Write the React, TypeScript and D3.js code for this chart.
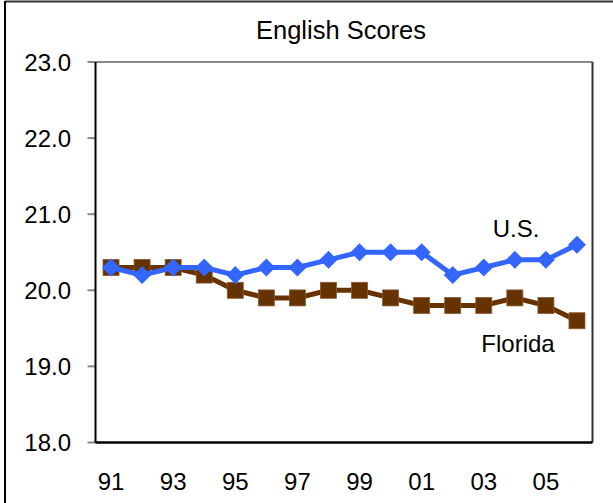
import React from "react";
import * as d3 from "d3";

const years = ["91","92","93","94","95","96","97","98","99","00","01","02","03","04","05","06"];
const usScores = [20.3,20.2,20.3,20.3,20.2,20.3,20.3,20.4,20.5,20.5,20.5,20.2,20.3,20.4,20.4,20.6];
const floridaScores = [20.3,20.3,20.3,20.2,20.0,19.9,19.9,20.0,20.0,19.9,19.8,19.8,19.8,19.9,19.8,19.6];
const yTicks = [18,19,20,21,22,23];
const xLabelYears = ["91","93","95","97","99","01","03","05"];

export default function App() {
  const W = 613, H = 503;
  const left = 95.5, right = 592.5, top = 62, bottom = 442.5;
  const x = d3.scaleBand<string>().domain(years).range([left, right]);
  const y = d3.scaleLinear().domain([18, 23]).range([bottom, top]);
  const cx = (yr: string) => (x(yr) as number) + x.bandwidth() / 2;
  const line = d3.line<number>().x((_, i) => cx(years[i])).y(d => y(d));
  const font = "'Liberation Sans', Arial, sans-serif";
  const blue = "#3366FF";
  const brown = "#663300";
  return (
    <svg width={W} height={H} style={{ position: "absolute", left: 0, top: 0 }} fontFamily={font}>
      <rect x={0} y={0} width={W} height={H} fill="#fff" />
      <line x1={5} y1={1.5} x2={W} y2={1.5} stroke="#333" strokeWidth={2} />
      <line x1={5} y1={1} x2={5} y2={H} stroke="#000" strokeWidth={2} />
      <text x={341} y={39} textAnchor="middle" fontSize={25.5} fill="#000">English Scores</text>
      <line x1={left} y1={top} x2={right} y2={top} stroke="#888" strokeWidth={2} />
      <line x1={right} y1={top} x2={right} y2={bottom} stroke="#333" strokeWidth={2} />
      {yTicks.map(t => (
        <g key={t}>
          <line x1={left - 8} x2={left} y1={y(t)} y2={y(t)} stroke="#888" strokeWidth={2} />
          <text x={71} y={y(t) + 8.5} textAnchor="end" fontSize={24} fill="#000">{t.toFixed(1)}</text>
        </g>
      ))}
      <line x1={left} y1={top} x2={left} y2={bottom} stroke="#000" strokeWidth={2} />
      <line x1={left} y1={bottom} x2={right} y2={bottom} stroke="#000" strokeWidth={2.5} />
      {xLabelYears.map(yr => (
        <text key={yr} x={cx(yr)} y={489.5} textAnchor="middle" fontSize={24} fill="#000">{yr}</text>
      ))}
      <path d={line(floridaScores) || ""} fill="none" stroke={brown} strokeWidth={5} />
      {floridaScores.map((v, i) => (
        <rect key={i} x={cx(years[i]) - 8} y={y(v) - 8} width={16} height={16} fill={brown} stroke="#8a5a33" strokeWidth={0.8} />
      ))}
      <path d={line(usScores) || ""} fill="none" stroke={blue} strokeWidth={5} />
      {usScores.map((v, i) => {
        const px = cx(years[i]), py = y(v);
        return <path key={i} d={`M${px},${py - 9}L${px + 9},${py}L${px},${py + 9}L${px - 9},${py}Z`} fill={blue} />;
      })}
      <text x={516} y={237} textAnchor="middle" fontSize={24} fill="#000">U.S.</text>
      <text x={518} y={352} textAnchor="middle" fontSize={24} fill="#000">Florida</text>
    </svg>
  );
}
